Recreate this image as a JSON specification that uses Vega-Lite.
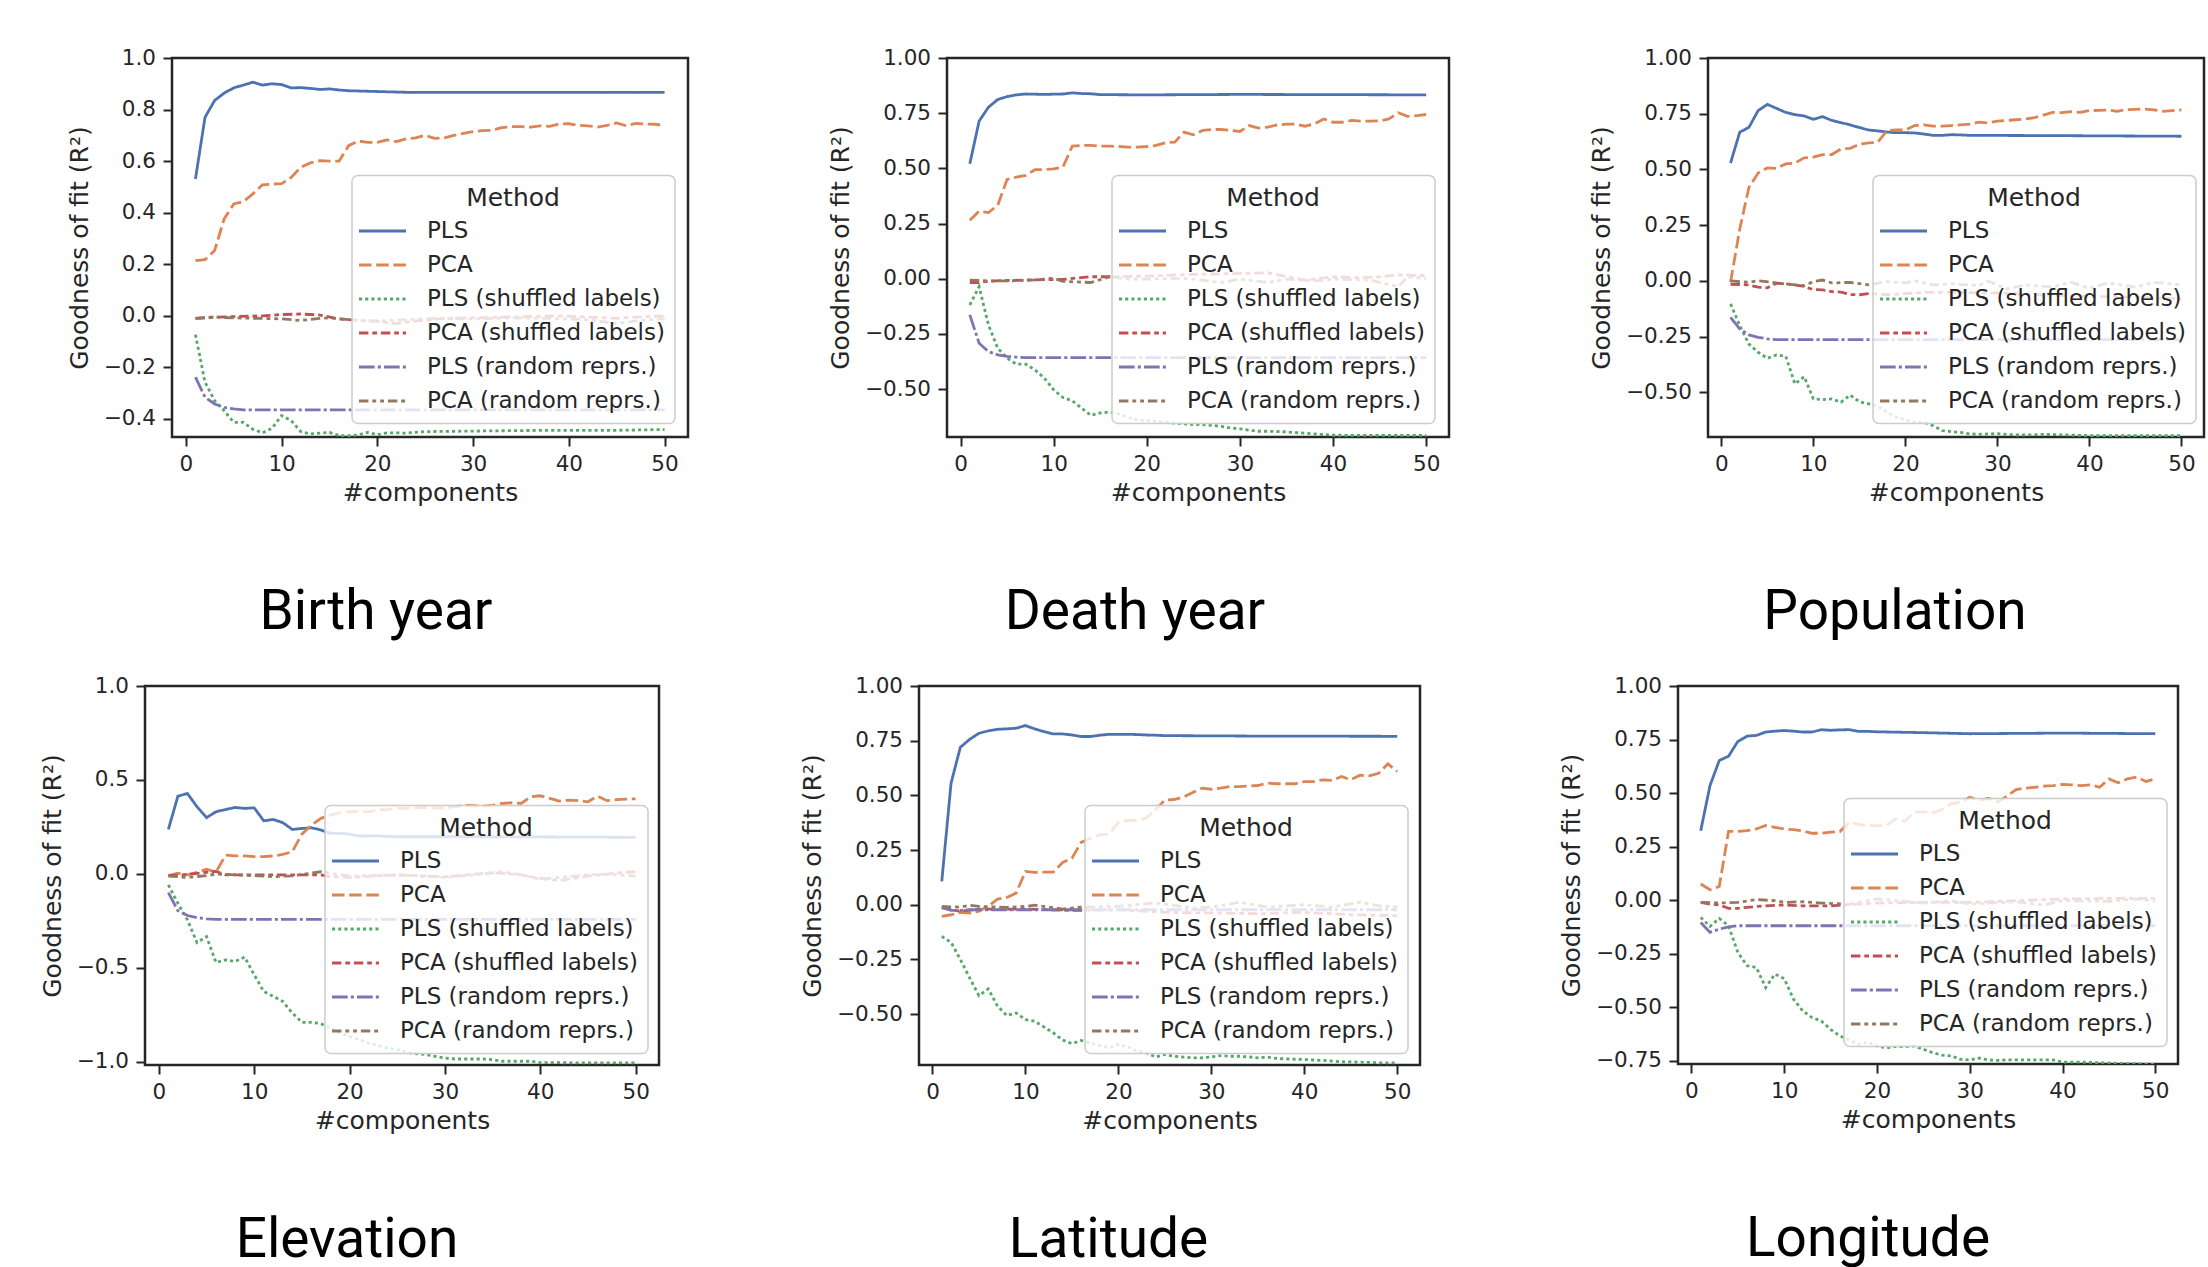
{
"$schema": "https://vega.github.io/schema/vega-lite/v6.json",
"background": "white",
"padding": {"left": 39, "top": 45, "right": 0, "bottom": 0},
"config": {
  "font": "DejaVu Sans",
  "view": {"stroke": "#262626", "strokeWidth": 2.5},
  "axis": {"domain": false, "grid": false, "tickColor": "#262626", "tickSize": 9, "tickWidth": 2, "labelFont": "DejaVu Sans", "labelFontSize": 21.5, "labelColor": "#262626", "labelPadding": 7.5, "titleFont": "DejaVu Sans", "titleFontSize": 25, "titleFontWeight": "normal", "titleColor": "#262626", "labelFlush": false, "labelOverlap": false},
  "axisX": {"titlePadding": 5},
  "axisY": {"titlePadding": 11},
  "legend": {"orient": "none", "titleFont": "DejaVu Sans", "titleFontSize": 25, "titleFontWeight": "normal", "titleColor": "#262626", "titleAnchor": "middle", "titlePadding": 9, "labelFont": "DejaVu Sans", "labelFontSize": 23, "labelColor": "#262626", "labelLimit": 400, "symbolSize": 400, "symbolStrokeWidth": 3, "symbolOffset": 9, "labelOffset": 33, "rowPadding": 10, "padding": 10, "fillColor": "rgba(255,255,255,0.8)", "strokeColor": "#cccccc", "strokeWidth": 1.5, "cornerRadius": 6},
  "title": {"font": "Roboto", "fontSize": 55, "fontWeight": "normal", "color": "#000000", "orient": "bottom", "frame": "group", "baseline": "alphabetic", "offset": 81, "anchor": "middle"}
},
"datasets": {"r": [
{"p":"Birth year","m":"PLS","x":[1,2,3,4,5,6,7,8,9,10,11,12,13,14,15,16,17,18,19,20,21,22,23,30,40,50],"y":[0.531,0.77,0.835,0.864,0.884,0.895,0.906,0.895,0.9,0.897,0.884,0.885,0.882,0.878,0.88,0.876,0.873,0.872,0.871,0.87,0.869,0.868,0.867,0.867,0.867,0.867]},
{"p":"Birth year","m":"PCA","x":[1,2,3,4,5,6,7,8,9,10,11,12,13,14,15,16,17,18,19,20,21,22,23,24,25,26,27,28,29,30,31,32,33,34,35,36,37,38,39,40,41,42,43,44,45,46,47,48,49,50],"y":[0.214,0.218,0.253,0.376,0.434,0.443,0.473,0.508,0.511,0.513,0.537,0.576,0.593,0.602,0.6,0.6,0.66,0.678,0.673,0.673,0.682,0.676,0.686,0.69,0.7,0.688,0.69,0.7,0.708,0.714,0.718,0.72,0.73,0.734,0.734,0.732,0.737,0.735,0.744,0.745,0.739,0.737,0.732,0.739,0.748,0.737,0.746,0.744,0.743,0.739]},
{"p":"Birth year","m":"PLS (shuffled labels)","x":[1,2,3,4,5,6,7,8,9,10,11,12,13,14,15,16,17,18,19,20,21,22,23,24,25,30,35,40,45,50],"y":[-0.073,-0.258,-0.329,-0.368,-0.413,-0.413,-0.44,-0.454,-0.436,-0.387,-0.406,-0.449,-0.458,-0.455,-0.452,-0.465,-0.465,-0.462,-0.452,-0.461,-0.454,-0.454,-0.455,-0.452,-0.449,-0.447,-0.445,-0.444,-0.444,-0.441]},
{"p":"Birth year","m":"PCA (shuffled labels)","x":[1,3,5,8,10,12,14,16,18,20,22,24,27,30,33,36,39,42,45,48,50],"y":[-0.01,-0.005,-0.003,0,0.005,0.007,0.003,-0.012,-0.018,-0.022,-0.03,-0.02,-0.01,-0.008,-0.005,-0.003,0,-0.005,-0.01,-0.003,0]},
{"p":"Birth year","m":"PLS (random reprs.)","x":[1,2,3,4,5,6,50],"y":[-0.238,-0.316,-0.342,-0.355,-0.361,-0.365,-0.365]},
{"p":"Birth year","m":"PCA (random reprs.)","x":[1,3,5,8,10,12,14,15,18,20,23,26,30,34,38,42,45,47,50],"y":[-0.01,-0.005,-0.008,-0.01,-0.012,-0.018,-0.01,-0.008,-0.018,-0.02,-0.015,-0.01,-0.012,-0.008,-0.01,-0.015,-0.03,-0.02,-0.01]},
{"p":"Death year","m":"PLS","x":[1,2,3,4,5,6,7,8,9,10,11,12,13,14,15,20,30,40,50],"y":[0.521,0.714,0.777,0.812,0.825,0.833,0.837,0.836,0.835,0.836,0.837,0.842,0.839,0.838,0.834,0.833,0.835,0.834,0.833]},
{"p":"Death year","m":"PCA","x":[1,2,3,4,5,6,7,8,9,10,11,12,13,14,15,16,17,18,19,20,21,22,23,24,25,26,27,28,29,30,31,32,33,34,35,36,37,38,39,40,41,42,43,44,45,46,47,48,49,50],"y":[0.265,0.306,0.3,0.333,0.45,0.46,0.468,0.494,0.494,0.498,0.506,0.601,0.604,0.604,0.601,0.601,0.599,0.596,0.596,0.599,0.604,0.616,0.619,0.664,0.652,0.672,0.676,0.676,0.672,0.667,0.694,0.682,0.687,0.697,0.7,0.7,0.691,0.702,0.724,0.709,0.709,0.717,0.714,0.714,0.715,0.724,0.752,0.736,0.739,0.744]},
{"p":"Death year","m":"PLS (shuffled labels)","x":[1,2,3,4,5,6,7,8,9,10,11,12,13,14,15,16,17,18,19,20,21,22,23,24,25,26,27,28,29,30,31,32,33,34,35,36,37,38,39,40,45,50],"y":[-0.119,-0.036,-0.209,-0.315,-0.36,-0.387,-0.387,-0.413,-0.45,-0.503,-0.538,-0.553,-0.586,-0.619,-0.608,-0.604,-0.613,-0.628,-0.64,-0.643,-0.646,-0.65,-0.654,-0.657,-0.661,-0.661,-0.664,-0.669,-0.676,-0.68,-0.686,-0.691,-0.691,-0.692,-0.694,-0.697,-0.7,-0.703,-0.706,-0.709,-0.71,-0.71]},
{"p":"Death year","m":"PCA (shuffled labels)","x":[1,2,3,5,8,11,14,16,20,25,30,33,35,37,40,43,45,47,50],"y":[-0.017,-0.017,-0.011,-0.008,-0.005,-0.003,0.009,0.009,0.012,0.02,0.024,0.027,0.01,-0.006,0.009,0.005,0.009,0.017,0.014]},
{"p":"Death year","m":"PLS (random reprs.)","x":[1,2,3,4,5,6,7,50],"y":[-0.164,-0.292,-0.33,-0.345,-0.352,-0.355,-0.357,-0.357]},
{"p":"Death year","m":"PCA (random reprs.)","x":[1,3,5,8,10,11,14,16,18,20,23,25,28,30,33,35,38,40,44,47,48,50],"y":[-0.006,-0.01,-0.01,-0.005,0.002,-0.012,-0.017,0.009,-0.002,-0.002,0.002,-0.002,-0.017,-0.002,-0.017,-0.002,-0.01,-0.002,-0.006,-0.036,0.009,0.002]},
{"p":"Population","m":"PLS","x":[1,2,3,4,5,6,7,8,9,10,11,12,13,14,15,16,17,18,19,20,21,22,23,24,25,26,27,35,50],"y":[0.529,0.667,0.689,0.764,0.792,0.774,0.756,0.746,0.74,0.725,0.737,0.72,0.71,0.7,0.688,0.677,0.673,0.668,0.665,0.665,0.664,0.659,0.653,0.653,0.656,0.655,0.653,0.652,0.649]},
{"p":"Population","m":"PCA","x":[1,2,3,4,5,6,7,8,9,10,11,12,13,14,15,16,17,18,19,20,21,22,23,24,25,26,27,28,29,30,31,32,33,34,35,36,37,38,39,40,41,42,43,44,45,46,47,48,49,50],"y":[-0.006,0.233,0.42,0.484,0.507,0.505,0.525,0.529,0.552,0.555,0.566,0.567,0.592,0.595,0.614,0.619,0.622,0.674,0.678,0.677,0.697,0.7,0.694,0.694,0.697,0.7,0.703,0.712,0.709,0.717,0.72,0.723,0.726,0.732,0.744,0.756,0.755,0.759,0.756,0.764,0.765,0.767,0.761,0.768,0.77,0.771,0.767,0.761,0.764,0.767]},
{"p":"Population","m":"PLS (shuffled labels)","x":[1,2,3,4,5,6,7,8,9,10,11,12,13,14,15,16,17,18,19,20,21,22,23,24,25,26,27,28,29,30,31,32,33,34,35,40,45,50],"y":[-0.103,-0.2,-0.283,-0.32,-0.347,-0.332,-0.338,-0.462,-0.429,-0.529,-0.532,-0.529,-0.544,-0.512,-0.542,-0.551,-0.561,-0.589,-0.611,-0.623,-0.634,-0.634,-0.649,-0.671,-0.676,-0.679,-0.686,-0.688,-0.686,-0.685,-0.688,-0.691,-0.691,-0.69,-0.688,-0.694,-0.694,-0.694]},
{"p":"Population","m":"PCA (shuffled labels)","x":[1,2,3,4,5,6,7,8,9,10,11,12,13,14,15,16,18,20,22,25,30,35,40,45,50],"y":[-0.015,-0.016,-0.018,-0.028,-0.031,-0.01,-0.013,-0.018,-0.025,-0.039,-0.04,-0.048,-0.05,-0.061,-0.062,-0.057,-0.062,-0.057,-0.051,-0.051,-0.054,-0.063,-0.069,-0.073,-0.081]},
{"p":"Population","m":"PLS (random reprs.)","x":[1,2,3,4,5,6,50],"y":[-0.163,-0.215,-0.242,-0.253,-0.26,-0.263,-0.263]},
{"p":"Population","m":"PCA (random reprs.)","x":[1,3,4,6,8,9,10,11,12,14,16,18,20,21,23,25,28,29,31,33,36,38,40,42,45,47,50],"y":[0,-0.006,0.001,-0.009,-0.018,-0.021,-0.003,0.004,-0.009,-0.006,-0.018,-0.003,-0.009,0.001,-0.018,-0.013,-0.021,0,-0.036,-0.018,-0.027,-0.006,-0.033,-0.009,-0.028,-0.006,-0.018]},
{"p":"Elevation","m":"PLS","x":[1,2,3,4,5,6,7,8,9,10,11,12,13,14,15,16,17,18,19,20,21,22,23,24,25,35,50],"y":[0.237,0.414,0.428,0.358,0.3,0.331,0.343,0.354,0.349,0.352,0.283,0.29,0.273,0.237,0.242,0.246,0.234,0.216,0.216,0.212,0.202,0.202,0.203,0.2,0.198,0.198,0.195]},
{"p":"Elevation","m":"PCA","x":[1,2,3,4,5,6,7,8,9,10,11,12,13,14,15,16,17,18,19,20,21,22,23,24,25,26,27,28,29,30,31,32,33,34,35,36,37,38,39,40,41,42,43,44,45,46,47,48,49,50],"y":[-0.009,0.004,-0.005,0.009,0.025,0.011,0.1,0.096,0.096,0.092,0.092,0.096,0.104,0.119,0.212,0.26,0.296,0.313,0.326,0.331,0.333,0.331,0.34,0.343,0.349,0.349,0.352,0.354,0.352,0.351,0.358,0.365,0.363,0.361,0.365,0.375,0.379,0.375,0.411,0.416,0.402,0.388,0.393,0.39,0.384,0.414,0.39,0.396,0.398,0.4]},
{"p":"Elevation","m":"PLS (shuffled labels)","x":[1,2,3,4,5,6,7,8,9,10,11,12,13,14,15,16,17,18,19,20,21,22,23,24,25,26,27,28,29,30,31,32,33,34,35,36,37,38,39,40,45,50],"y":[-0.058,-0.156,-0.244,-0.365,-0.333,-0.471,-0.457,-0.465,-0.442,-0.536,-0.625,-0.651,-0.678,-0.74,-0.789,-0.789,-0.796,-0.819,-0.846,-0.864,-0.881,-0.899,-0.913,-0.926,-0.934,-0.949,-0.955,-0.961,-0.97,-0.979,-0.984,-0.984,-0.984,-0.984,-0.988,-0.996,-0.996,-0.996,-0.996,-1.003,-1.005,-1.005]},
{"p":"Elevation","m":"PCA (shuffled labels)","x":[1,3,5,6,7,10,14,17,18,20,25,30,35,38,40,42,45,48,50],"y":[-0.009,-0.002,0.009,0.014,-0.005,-0.005,-0.005,-0.005,-0.014,-0.018,-0.005,-0.014,0.007,-0.005,-0.023,-0.035,-0.011,0.005,0.012]},
{"p":"Elevation","m":"PLS (random reprs.)","x":[1,2,3,4,5,6,50],"y":[-0.099,-0.195,-0.221,-0.232,-0.239,-0.241,-0.241]},
{"p":"Elevation","m":"PCA (random reprs.)","x":[1,3,5,6,10,12,14,17,20,25,30,34,36,38,40,43,46,48,50],"y":[-0.011,-0.018,-0.009,0,-0.009,-0.014,-0.01,0.012,-0.011,-0.005,-0.018,0,0.012,-0.005,-0.028,-0.014,0,-0.005,-0.011]},
{"p":"Latitude","m":"PLS","x":[1,2,3,4,5,6,7,8,9,10,11,12,13,14,15,16,17,18,19,20,21,22,23,24,25,35,50],"y":[0.107,0.556,0.72,0.756,0.784,0.795,0.802,0.804,0.807,0.819,0.804,0.791,0.781,0.781,0.776,0.769,0.769,0.775,0.779,0.779,0.779,0.778,0.776,0.775,0.773,0.771,0.77]},
{"p":"Latitude","m":"PCA","x":[1,2,3,4,5,6,7,8,9,10,11,12,13,14,15,16,17,18,19,20,21,22,23,24,25,26,27,28,29,30,31,32,33,34,35,36,37,38,39,40,41,42,43,44,45,46,47,48,49,50],"y":[-0.053,-0.046,-0.035,-0.038,-0.03,-0.008,0.026,0.033,0.053,0.152,0.148,0.149,0.149,0.193,0.213,0.285,0.304,0.32,0.323,0.377,0.385,0.385,0.396,0.434,0.479,0.481,0.492,0.513,0.533,0.528,0.533,0.54,0.54,0.543,0.545,0.556,0.553,0.553,0.553,0.563,0.563,0.571,0.568,0.586,0.571,0.592,0.589,0.601,0.644,0.609]},
{"p":"Latitude","m":"PLS (shuffled labels)","x":[1,2,3,4,5,6,7,8,9,10,11,12,13,14,15,16,17,18,19,20,21,22,23,24,25,26,27,28,29,30,31,32,33,34,35,36,37,38,40,42,44,46,48,50],"y":[-0.145,-0.172,-0.251,-0.335,-0.416,-0.385,-0.464,-0.507,-0.495,-0.525,-0.533,-0.559,-0.586,-0.619,-0.635,-0.621,-0.632,-0.644,-0.654,-0.639,-0.65,-0.67,-0.677,-0.696,-0.685,-0.693,-0.697,-0.7,-0.7,-0.696,-0.69,-0.693,-0.693,-0.696,-0.7,-0.697,-0.703,-0.705,-0.708,-0.712,-0.718,-0.72,-0.723,-0.723]},
{"p":"Latitude","m":"PCA (shuffled labels)","x":[1,3,5,10,15,20,25,30,35,40,45,50],"y":[-0.015,-0.03,-0.02,-0.02,-0.026,-0.023,-0.035,-0.038,-0.041,-0.035,-0.046,-0.05]},
{"p":"Latitude","m":"PLS (random reprs.)","x":[1,2,3,4,50],"y":[-0.011,-0.026,-0.026,-0.023,-0.023]},
{"p":"Latitude","m":"PCA (random reprs.)","x":[1,3,4,5,8,10,11,14,16,20,24,28,30,33,36,40,43,46,48,50],"y":[-0.008,-0.011,-0.003,-0.008,-0.012,-0.008,-0.002,-0.02,-0.011,-0.008,0.008,-0.015,-0.011,0.011,-0.011,0,-0.011,0.011,-0.005,-0.011]},
{"p":"Longitude","m":"PLS","x":[1,2,3,4,5,6,7,8,9,10,11,12,13,14,15,16,17,18,19,20,25,30,40,50],"y":[0.324,0.535,0.652,0.672,0.741,0.766,0.769,0.785,0.789,0.792,0.789,0.785,0.785,0.796,0.793,0.795,0.796,0.788,0.788,0.786,0.782,0.777,0.78,0.777]},
{"p":"Longitude","m":"PCA","x":[1,2,3,4,5,6,7,8,9,10,11,12,13,14,15,16,17,18,19,20,21,22,23,24,25,26,27,28,29,30,31,32,33,34,35,36,37,38,39,40,41,42,43,44,45,46,47,48,49,50],"y":[0.075,0.048,0.064,0.321,0.321,0.324,0.332,0.348,0.34,0.332,0.329,0.323,0.312,0.312,0.317,0.32,0.363,0.353,0.348,0.348,0.348,0.379,0.367,0.41,0.413,0.406,0.423,0.449,0.457,0.48,0.465,0.476,0.457,0.485,0.516,0.523,0.527,0.532,0.535,0.54,0.538,0.535,0.538,0.527,0.566,0.548,0.566,0.574,0.554,0.566]},
{"p":"Longitude","m":"PLS (shuffled labels)","x":[1,2,3,4,5,6,7,8,9,10,11,12,13,14,15,16,17,18,19,20,21,22,23,24,25,26,27,28,29,30,31,32,33,34,35,36,37,38,39,40,42,44,46,48,50],"y":[-0.081,-0.123,-0.086,-0.12,-0.245,-0.307,-0.315,-0.409,-0.346,-0.367,-0.463,-0.518,-0.549,-0.565,-0.604,-0.635,-0.654,-0.674,-0.663,-0.682,-0.69,-0.685,-0.685,-0.682,-0.697,-0.713,-0.725,-0.728,-0.744,-0.747,-0.738,-0.747,-0.749,-0.747,-0.747,-0.747,-0.747,-0.747,-0.747,-0.757,-0.757,-0.76,-0.763,-0.765,-0.768]},
{"p":"Longitude","m":"PCA (shuffled labels)","x":[1,2,3,4,5,6,7,8,10,12,15,20,25,30,35,40,45,50],"y":[-0.011,-0.019,-0.023,-0.039,-0.039,-0.034,-0.03,-0.027,-0.023,-0.027,-0.027,-0.014,-0.011,-0.011,-0.003,0.005,0.008,0.008]},
{"p":"Longitude","m":"PLS (random reprs.)","x":[1,2,3,4,5,6,50],"y":[-0.105,-0.151,-0.136,-0.125,-0.12,-0.12,-0.12]},
{"p":"Longitude","m":"PCA (random reprs.)","x":[1,3,5,7,9,10,12,14,17,20,25,28,30,35,38,40,45,48,50],"y":[-0.011,-0.014,-0.011,0.002,-0.003,-0.011,-0.008,-0.014,-0.02,0.005,-0.014,-0.003,-0.019,-0.008,-0.023,-0.003,-0.006,0.005,-0.005]}
]},
"vconcat": [
 {"hconcat": [
   {"width": 27, "height": 1, "view": {"stroke": null}, "data": {"values": []}, "mark": "point"},
   {"width": 516, "height": 379, "data": {"name": "r"}, "transform": [{"filter": {"field": "p", "equal": "Birth year"}}, {"flatten": ["x", "y"]}],
    "mark": {"type": "line", "strokeWidth": 2.8, "clip": true},
    "title": {"text": "Birth year", "dx": -54},
    "encoding": {
      "x": {"field": "x", "type": "quantitative", "scale": {"domain": [-1.45, 52.45], "nice": false, "zero": false}, "axis": {"values": [0, 10, 20, 30, 40, 50], "title": "#components"}},
      "y": {"field": "y", "type": "quantitative", "scale": {"domain": [-0.47, 1.0], "nice": false, "zero": false}, "axis": {"values": [-0.4, -0.2, 0, 0.2, 0.4, 0.6, 0.8, 1.0], "format": ".1f", "title": "Goodness of fit (R²)"}},
      "color": {"field": "m", "type": "nominal", "title": "Method", "scale": {"domain": ["PLS", "PCA", "PLS (shuffled labels)", "PCA (shuffled labels)", "PLS (random reprs.)", "PCA (random reprs.)"], "range": ["#4C72B0", "#DD8452", "#55A868", "#C44E52", "#8172B3", "#937860"]}, "legend": {"legendX": 180, "legendY": 117.5, "symbolType": "M-2.35,0H2.35"}},
      "strokeDash": {"field": "m", "type": "nominal", "title": "Method", "scale": {"domain": ["PLS", "PCA", "PLS (shuffled labels)", "PCA (shuffled labels)", "PLS (random reprs.)", "PCA (random reprs.)"], "range": [[1, 0], [12.5, 4.7], [3.1, 3.1], [9.4, 3.9, 4.7, 3.9], [15.7, 3.1, 3.1, 3.1], [9.4, 3.9, 3.9, 3.9, 3.9, 3.9]]}, "legend": {"legendX": 180, "legendY": 117.5, "symbolType": "M-2.35,0H2.35"}}
    }},
   {"width": 259, "height": 1, "view": {"stroke": null}, "data": {"values": []}, "mark": "point"},
   {"width": 502, "height": 379, "data": {"name": "r"}, "transform": [{"filter": {"field": "p", "equal": "Death year"}}, {"flatten": ["x", "y"]}],
    "mark": {"type": "line", "strokeWidth": 2.8, "clip": true},
    "title": {"text": "Death year", "dx": -63},
    "encoding": {
      "x": {"field": "x", "type": "quantitative", "scale": {"domain": [-1.45, 52.45], "nice": false, "zero": false}, "axis": {"values": [0, 10, 20, 30, 40, 50], "title": "#components"}},
      "y": {"field": "y", "type": "quantitative", "scale": {"domain": [-0.717, 1.0], "nice": false, "zero": false}, "axis": {"values": [-0.5, -0.25, 0, 0.25, 0.5, 0.75, 1.0], "format": ".2f", "title": "Goodness of fit (R²)"}},
      "color": {"field": "m", "type": "nominal", "title": "Method", "scale": {"domain": ["PLS", "PCA", "PLS (shuffled labels)", "PCA (shuffled labels)", "PLS (random reprs.)", "PCA (random reprs.)"], "range": ["#4C72B0", "#DD8452", "#55A868", "#C44E52", "#8172B3", "#937860"]}, "legend": {"legendX": 165, "legendY": 117.5, "symbolType": "M-2.35,0H2.35"}},
      "strokeDash": {"field": "m", "type": "nominal", "title": "Method", "scale": {"domain": ["PLS", "PCA", "PLS (shuffled labels)", "PCA (shuffled labels)", "PLS (random reprs.)", "PCA (random reprs.)"], "range": [[1, 0], [12.5, 4.7], [3.1, 3.1], [9.4, 3.9, 4.7, 3.9], [15.7, 3.1, 3.1, 3.1], [9.4, 3.9, 3.9, 3.9, 3.9, 3.9]]}, "legend": {"legendX": 165, "legendY": 117.5, "symbolType": "M-2.35,0H2.35"}}
    }},
   {"width": 259, "height": 1, "view": {"stroke": null}, "data": {"values": []}, "mark": "point"},
   {"width": 496, "height": 379, "data": {"name": "r"}, "transform": [{"filter": {"field": "p", "equal": "Population"}}, {"flatten": ["x", "y"]}],
    "mark": {"type": "line", "strokeWidth": 2.8, "clip": true},
    "title": {"text": "Population", "dx": -61},
    "encoding": {
      "x": {"field": "x", "type": "quantitative", "scale": {"domain": [-1.45, 52.45], "nice": false, "zero": false}, "axis": {"values": [0, 10, 20, 30, 40, 50], "title": "#components"}},
      "y": {"field": "y", "type": "quantitative", "scale": {"domain": [-0.70, 1.0], "nice": false, "zero": false}, "axis": {"values": [-0.5, -0.25, 0, 0.25, 0.5, 0.75, 1.0], "format": ".2f", "title": "Goodness of fit (R²)"}},
      "color": {"field": "m", "type": "nominal", "title": "Method", "scale": {"domain": ["PLS", "PCA", "PLS (shuffled labels)", "PCA (shuffled labels)", "PLS (random reprs.)", "PCA (random reprs.)"], "range": ["#4C72B0", "#DD8452", "#55A868", "#C44E52", "#8172B3", "#937860"]}, "legend": {"legendX": 165, "legendY": 117.5, "symbolType": "M-2.35,0H2.35"}},
      "strokeDash": {"field": "m", "type": "nominal", "title": "Method", "scale": {"domain": ["PLS", "PCA", "PLS (shuffled labels)", "PCA (shuffled labels)", "PLS (random reprs.)", "PCA (random reprs.)"], "range": [[1, 0], [12.5, 4.7], [3.1, 3.1], [9.4, 3.9, 4.7, 3.9], [15.7, 3.1, 3.1, 3.1], [9.4, 3.9, 3.9, 3.9, 3.9, 3.9]]}, "legend": {"legendX": 165, "legendY": 117.5, "symbolType": "M-2.35,0H2.35"}}
    }}
 ], "spacing": 0, "bounds": "flush", "resolve": {"scale": {"color": "independent", "strokeDash": "independent"}, "legend": {"color": "independent", "strokeDash": "independent"}}},
 {"hconcat": [
   {"width": 514, "height": 379, "data": {"name": "r"}, "transform": [{"filter": {"field": "p", "equal": "Elevation"}}, {"flatten": ["x", "y"]}],
    "mark": {"type": "line", "strokeWidth": 2.8, "clip": true},
    "title": {"text": "Elevation", "dx": -55},
    "encoding": {
      "x": {"field": "x", "type": "quantitative", "scale": {"domain": [-1.45, 52.45], "nice": false, "zero": false}, "axis": {"values": [0, 10, 20, 30, 40, 50], "title": "#components"}},
      "y": {"field": "y", "type": "quantitative", "scale": {"domain": [-1.016, 1.0], "nice": false, "zero": false}, "axis": {"values": [-1.0, -0.5, 0, 0.5, 1.0], "format": ".1f", "title": "Goodness of fit (R²)"}},
      "color": {"field": "m", "type": "nominal", "title": "Method", "scale": {"domain": ["PLS", "PCA", "PLS (shuffled labels)", "PCA (shuffled labels)", "PLS (random reprs.)", "PCA (random reprs.)"], "range": ["#4C72B0", "#DD8452", "#55A868", "#C44E52", "#8172B3", "#937860"]}, "legend": {"legendX": 180, "legendY": 119.5, "symbolType": "M-2.35,0H2.35"}},
      "strokeDash": {"field": "m", "type": "nominal", "title": "Method", "scale": {"domain": ["PLS", "PCA", "PLS (shuffled labels)", "PCA (shuffled labels)", "PLS (random reprs.)", "PCA (random reprs.)"], "range": [[1, 0], [12.5, 4.7], [3.1, 3.1], [9.4, 3.9, 4.7, 3.9], [15.7, 3.1, 3.1, 3.1], [9.4, 3.9, 3.9, 3.9, 3.9, 3.9]]}, "legend": {"legendX": 180, "legendY": 119.5, "symbolType": "M-2.35,0H2.35"}}
    }},
   {"width": 260, "height": 1, "view": {"stroke": null}, "data": {"values": []}, "mark": "point"},
   {"width": 501, "height": 379, "data": {"name": "r"}, "transform": [{"filter": {"field": "p", "equal": "Latitude"}}, {"flatten": ["x", "y"]}],
    "mark": {"type": "line", "strokeWidth": 2.8, "clip": true},
    "title": {"text": "Latitude", "dx": -61},
    "encoding": {
      "x": {"field": "x", "type": "quantitative", "scale": {"domain": [-1.45, 52.45], "nice": false, "zero": false}, "axis": {"values": [0, 10, 20, 30, 40, 50], "title": "#components"}},
      "y": {"field": "y", "type": "quantitative", "scale": {"domain": [-0.733, 1.0], "nice": false, "zero": false}, "axis": {"values": [-0.5, -0.25, 0, 0.25, 0.5, 0.75, 1.0], "format": ".2f", "title": "Goodness of fit (R²)"}},
      "color": {"field": "m", "type": "nominal", "title": "Method", "scale": {"domain": ["PLS", "PCA", "PLS (shuffled labels)", "PCA (shuffled labels)", "PLS (random reprs.)", "PCA (random reprs.)"], "range": ["#4C72B0", "#DD8452", "#55A868", "#C44E52", "#8172B3", "#937860"]}, "legend": {"legendX": 166, "legendY": 119.5, "symbolType": "M-2.35,0H2.35"}},
      "strokeDash": {"field": "m", "type": "nominal", "title": "Method", "scale": {"domain": ["PLS", "PCA", "PLS (shuffled labels)", "PCA (shuffled labels)", "PLS (random reprs.)", "PCA (random reprs.)"], "range": [[1, 0], [12.5, 4.7], [3.1, 3.1], [9.4, 3.9, 4.7, 3.9], [15.7, 3.1, 3.1, 3.1], [9.4, 3.9, 3.9, 3.9, 3.9, 3.9]]}, "legend": {"legendX": 166, "legendY": 119.5, "symbolType": "M-2.35,0H2.35"}}
    }},
   {"width": 258, "height": 1, "view": {"stroke": null}, "data": {"values": []}, "mark": "point"},
   {"width": 500, "height": 378, "data": {"name": "r"}, "transform": [{"filter": {"field": "p", "equal": "Longitude"}}, {"flatten": ["x", "y"]}],
    "mark": {"type": "line", "strokeWidth": 2.8, "clip": true},
    "title": {"text": "Longitude", "dx": -60},
    "encoding": {
      "x": {"field": "x", "type": "quantitative", "scale": {"domain": [-1.45, 52.45], "nice": false, "zero": false}, "axis": {"values": [0, 10, 20, 30, 40, 50], "title": "#components"}},
      "y": {"field": "y", "type": "quantitative", "scale": {"domain": [-0.766, 1.0], "nice": false, "zero": false}, "axis": {"values": [-0.75, -0.5, -0.25, 0, 0.25, 0.5, 0.75, 1.0], "format": ".2f", "title": "Goodness of fit (R²)"}},
      "color": {"field": "m", "type": "nominal", "title": "Method", "scale": {"domain": ["PLS", "PCA", "PLS (shuffled labels)", "PCA (shuffled labels)", "PLS (random reprs.)", "PCA (random reprs.)"], "range": ["#4C72B0", "#DD8452", "#55A868", "#C44E52", "#8172B3", "#937860"]}, "legend": {"legendX": 166, "legendY": 112.5, "symbolType": "M-2.35,0H2.35"}},
      "strokeDash": {"field": "m", "type": "nominal", "title": "Method", "scale": {"domain": ["PLS", "PCA", "PLS (shuffled labels)", "PCA (shuffled labels)", "PLS (random reprs.)", "PCA (random reprs.)"], "range": [[1, 0], [12.5, 4.7], [3.1, 3.1], [9.4, 3.9, 4.7, 3.9], [15.7, 3.1, 3.1, 3.1], [9.4, 3.9, 3.9, 3.9, 3.9, 3.9]]}, "legend": {"legendX": 166, "legendY": 112.5, "symbolType": "M-2.35,0H2.35"}}
    }}
 ], "spacing": 0, "bounds": "flush", "resolve": {"scale": {"color": "independent", "strokeDash": "independent"}, "legend": {"color": "independent", "strokeDash": "independent"}}}
],
"spacing": 628,
"bounds": "flush",
"resolve": {"scale": {"color": "independent", "strokeDash": "independent"}, "legend": {"color": "independent", "strokeDash": "independent"}}
}
